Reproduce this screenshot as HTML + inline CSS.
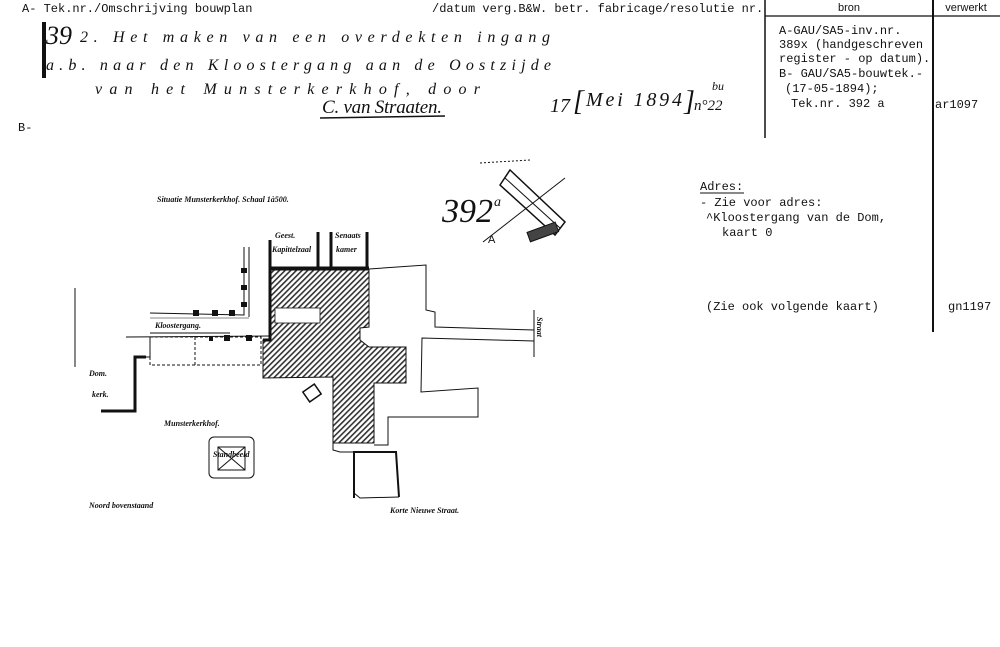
<!DOCTYPE html>
<html><head><meta charset="utf-8"><style>
html,body{margin:0;padding:0;background:#fff;}
svg{display:block}
.m{font-family:"Liberation Mono",monospace;font-size:12px;fill:#111}
.h{font-family:"Liberation Serif",serif;font-style:italic;fill:#111}
.s{font-family:"Liberation Sans",sans-serif;font-size:11px;fill:#111}
.lab{font-family:"Liberation Serif",serif;font-style:italic;font-weight:bold;font-size:8px;fill:#111}
</style></head><body>
<svg width="1000" height="647" viewBox="0 0 1000 647" xmlns="http://www.w3.org/2000/svg">
<defs>
<pattern id="hat" width="4" height="4" patternUnits="userSpaceOnUse" patternTransform="rotate(45)">
<rect width="4" height="4" fill="#fff"/><rect width="1.6" height="4" fill="#333"/></pattern>
</defs>
<text class="m" x="22" y="12">A- Tek.nr./Omschrijving bouwplan</text>
<text class="m" x="432" y="12">/datum verg.B&amp;W. betr. fabricage/resolutie nr.</text>
<line x1="765" y1="0" x2="765" y2="138" stroke="#111" stroke-width="1.5"/>
<line x1="933" y1="0" x2="933" y2="332" stroke="#111" stroke-width="2"/>
<line x1="765" y1="16" x2="1000" y2="16" stroke="#111" stroke-width="1.2"/>
<text class="s" x="849" y="11" text-anchor="middle">bron</text>
<text class="s" x="966" y="11" text-anchor="middle">verwerkt</text>
<text class="m" x="779" y="34">A-GAU/SA5-inv.nr.</text>
<text class="m" x="779" y="48">389x (handgeschreven</text>
<text class="m" x="779" y="62">register - op datum).</text>
<text class="m" x="779" y="77">B- GAU/SA5-bouwtek.-</text>
<text class="m" x="785" y="92">(17-05-1894);</text>
<text class="m" x="791" y="107">Tek.nr. 392 a</text>
<text class="m" x="935" y="108">ar1097</text>
<text class="m" x="18" y="131">B-</text>
<text class="h" x="46" y="44" font-size="26">39</text>
<text class="h" x="80" y="42" font-size="16" textLength="470" lengthAdjust="spacing">2.  Het maken van een overdekten ingang</text>
<text class="h" x="46" y="70" font-size="16" textLength="505" lengthAdjust="spacing">a.b.  naar den Kloostergang aan de Oostzijde</text>
<text class="h" x="95" y="94" font-size="16" textLength="385" lengthAdjust="spacing">van het Munsterkerkhof, door</text>
<text class="h" x="322" y="113" font-size="19" textLength="120" lengthAdjust="spacing">C. van Straaten.</text>
<line x1="320" y1="118" x2="445" y2="116" stroke="#111" stroke-width="1.5"/>
<line x1="44" y1="22" x2="44" y2="78" stroke="#111" stroke-width="4"/>
<text class="h" x="550" y="112" font-size="20">17</text>
<text class="h" x="573" y="110" font-size="28">[</text>
<text class="h" x="586" y="106" font-size="20" textLength="96" lengthAdjust="spacing">Mei 1894</text>
<text class="h" x="684" y="110" font-size="28">]</text>
<text class="h" x="694" y="110" font-size="15">n°22</text>
<text class="h" x="712" y="90" font-size="12">bu</text>
<text class="m" x="700" y="190">Adres:</text>
<line x1="700" y1="193" x2="744" y2="193" stroke="#111"/>
<text class="m" x="700" y="206">- Zie voor adres:</text>
<text class="m" x="706" y="221">^Kloostergang van de Dom,</text>
<text class="m" x="722" y="236">kaart 0</text>
<text class="m" x="706" y="310">(Zie ook volgende kaart)</text>
<text class="m" x="948" y="310">gn1197</text>
<text class="lab" x="157" y="202" font-size="9">Situatie Munsterkerkhof.   Schaal 1à500.</text>
<text class="h" x="442" y="222" font-size="34">392</text>
<text class="h" x="494" y="206" font-size="14">a</text>
<g stroke="#111" fill="none">
<line x1="483" y1="242" x2="565" y2="178" stroke-width="1"/>
<polygon points="500,185 510,170 565,222 555,235" stroke-width="1.5"/>
<line x1="505" y1="178" x2="560" y2="228"/>
<rect x="528" y="228" width="30" height="10" fill="#444" transform="rotate(-20 540 233)"/>
<line x1="480" y1="163" x2="530" y2="160" stroke-dasharray="2,2"/>
</g>
<text x="488" y="243" font-family="Liberation Sans,sans-serif" font-size="11" fill="#111">A</text>
<polygon points="270,270 369,270 369,327 360,328 360,340 369,347 406,347 406,383 374,383 374,443 333,443 333,377 263,378 263,340 270,340" fill="url(#hat)" stroke="#111" stroke-width="1"/>
<rect x="275" y="308" width="45" height="15" fill="#fff" stroke="#111" stroke-width="0.8"/>
<g stroke="#111" stroke-width="3" fill="none">
<polyline points="270,240 270,340 263,340"/>
<line x1="270" y1="268" x2="369" y2="268"/>
<line x1="318" y1="232" x2="318" y2="268"/>
<line x1="331" y1="232" x2="331" y2="268"/>
<line x1="367" y1="232" x2="367" y2="268"/>
<polyline points="101,411 135,411 135,357 146,357" stroke-width="3"/>
<polyline points="354,498 354,452 396,452 399,497" stroke-width="2"/>
</g>
<g stroke="#111" stroke-width="1" fill="none">
<polyline points="244,247 244,315 150,313"/>
<polyline points="249,247 249,317"/>
<line x1="150" y1="318" x2="249" y2="318" stroke-width="0.6"/>
<line x1="126" y1="337" x2="270" y2="336"/>
<line x1="150" y1="333" x2="230" y2="333"/>
<polyline points="146,357 150,357 150,337" />
<rect x="150" y="337" width="111" height="28" stroke-dasharray="3,2"/>
<line x1="195" y1="337" x2="195" y2="365" stroke-dasharray="3,2"/>
<line x1="75" y1="288" x2="75" y2="367"/>
<polyline points="369,269 426,265 426,310 435,312 435,327 534,330"/>
<line x1="534" y1="310" x2="534" y2="357"/>
<polyline points="534,341 422,338 421,392 478,388 478,417 388,417 388,445 374,445"/>
<polyline points="333,443 333,450 340,452 354,452"/>
<polyline points="354,493 360,498 399,497"/>
<rect x="305" y="387" width="14" height="12" transform="rotate(-35 312 393)" stroke-width="1.5"/>
<rect x="209" y="437" width="45" height="41" rx="5"/>
<rect x="218" y="447" width="27" height="23"/>
<line x1="218" y1="447" x2="245" y2="470"/><line x1="245" y1="447" x2="218" y2="470"/>
</g>
<g fill="#111">
<rect x="241" y="268" width="6" height="5"/><rect x="241" y="285" width="6" height="5"/><rect x="241" y="302" width="6" height="5"/>
<rect x="193" y="310" width="6" height="6"/><rect x="212" y="310" width="6" height="6"/><rect x="229" y="310" width="6" height="6"/>
<rect x="224" y="335" width="6" height="6"/><rect x="246" y="335" width="6" height="6"/><rect x="209" y="336" width="4" height="5"/>
</g>
<text class="lab" x="275" y="238">Geest.</text>
<text class="lab" x="272" y="252">Kapittelzaal</text>
<text class="lab" x="335" y="238">Senaats</text>
<text class="lab" x="336" y="252">kamer</text>
<text class="lab" x="155" y="328">Kloostergang.</text>
<text class="lab" x="89" y="376">Dom.</text>
<text class="lab" x="92" y="397">kerk.</text>
<text class="lab" x="164" y="426">Munsterkerkhof.</text>
<text class="lab" x="213" y="457" font-size="6">Standbeeld</text>
<text class="lab" x="89" y="508">Noord  bovenstaand</text>
<text class="lab" x="390" y="513">Korte Nieuwe Straat.</text>
<text class="lab" x="537" y="317" transform="rotate(90 537 317)">Straat</text>
</svg>
</body></html>
